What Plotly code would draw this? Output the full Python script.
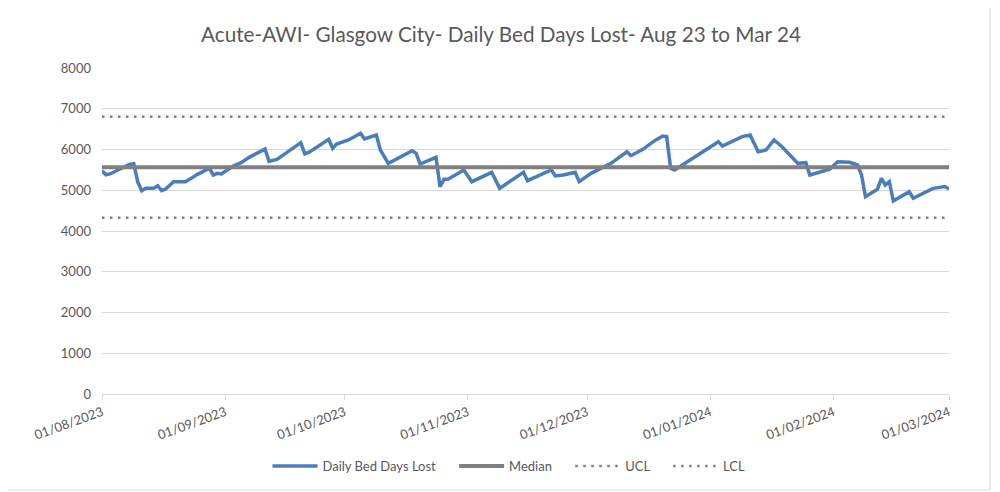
import plotly.graph_objects as go

# Daily bed days lost (turning points only)
dates = [
    '2023-08-01', '2023-08-02', '2023-08-03', '2023-08-06', '2023-08-08', '2023-08-09',
    '2023-08-10', '2023-08-11', '2023-08-12', '2023-08-14', '2023-08-15', '2023-08-16',
    '2023-08-17', '2023-08-19', '2023-08-22', '2023-08-23', '2023-08-25', '2023-08-28',
    '2023-08-29', '2023-08-30', '2023-08-31', '2023-09-03', '2023-09-05', '2023-09-07',
    '2023-09-09', '2023-09-11', '2023-09-12', '2023-09-14', '2023-09-20', '2023-09-21',
    '2023-09-22', '2023-09-27', '2023-09-28', '2023-09-29', '2023-10-02', '2023-10-04',
    '2023-10-05', '2023-10-06', '2023-10-09', '2023-10-10', '2023-10-12', '2023-10-18',
    '2023-10-19', '2023-10-20', '2023-10-24', '2023-10-25', '2023-10-26', '2023-10-27',
    '2023-10-31', '2023-11-02', '2023-11-07', '2023-11-09', '2023-11-15', '2023-11-16',
    '2023-11-22', '2023-11-23', '2023-11-25', '2023-11-28', '2023-11-29', '2023-12-02',
    '2023-12-07', '2023-12-11', '2023-12-12', '2023-12-15', '2023-12-18', '2023-12-20',
    '2023-12-21', '2023-12-22', '2023-12-23', '2024-01-03', '2024-01-04', '2024-01-09',
    '2024-01-11', '2024-01-13', '2024-01-15', '2024-01-17', '2024-01-19', '2024-01-23',
    '2024-01-25', '2024-01-26', '2024-01-30', '2024-01-31', '2024-02-02', '2024-02-05',
    '2024-02-07', '2024-02-08', '2024-02-09', '2024-02-12', '2024-02-13', '2024-02-14',
    '2024-02-15', '2024-02-16', '2024-02-20', '2024-02-21', '2024-02-26', '2024-02-28',
    '2024-02-29', '2024-03-01',
]
bed_days = [
    5480, 5380, 5400, 5540, 5640, 5650,
    5200, 4990, 5047, 5047, 5110, 4990,
    5030, 5210, 5210, 5267, 5390, 5540,
    5374, 5415, 5400, 5595, 5677, 5807,
    5905, 6010, 5710, 5758, 6168, 5890,
    5930, 6250, 6030, 6135, 6233, 6356,
    6397, 6258, 6356, 5988, 5660, 5970,
    5905, 5644, 5807, 5088, 5267, 5267,
    5497, 5210, 5440, 5047, 5440, 5235,
    5497, 5350, 5374, 5440, 5210, 5415,
    5660, 5945, 5848, 6005, 6217, 6331,
    6320, 5538, 5497, 6192, 6086, 6315,
    6356, 5945, 5988, 6233, 6069, 5660,
    5677, 5374, 5497, 5514, 5701, 5685,
    5620, 5374, 4842, 5022, 5292, 5129,
    5210, 4736, 4964, 4802, 5047, 5064,
    5090, 5030,
]

median = 5565
ucl = 6805
lcl = 4325
axis_dates = ['2023-08-01', '2024-03-01']

title = 'Acute-AWI- Glasgow City- Daily Bed Days Lost- Aug 23 to Mar 24'

fig = go.Figure()

fig.add_trace(go.Scatter(x=dates, y=bed_days, mode='lines', name='Daily Bed Days Lost    ',
                         line=dict(color='#4a7ebb', width=3.5)))
fig.add_trace(go.Scatter(x=axis_dates, y=[median, median], mode='lines', name='Median    ',
                         line=dict(color='#808080', width=4)))
fig.add_trace(go.Scatter(x=axis_dates, y=[ucl, ucl], mode='lines', name='UCL    ',
                         line=dict(color='#808080', width=2.5, dash='2.5px,5.5px')))
fig.add_trace(go.Scatter(x=axis_dates, y=[lcl, lcl], mode='lines', name='LCL',
                         line=dict(color='#808080', width=2.5, dash='2.5px,5.5px')))

fig.update_layout(
    width=1000, height=492,
    paper_bgcolor='white', plot_bgcolor='white',
    margin=dict(l=94, r=59, t=60, b=106),
    font=dict(family='Lato, Liberation Sans, sans-serif', color='#595959', size=13),
    title=dict(text=title, x=0.493, xanchor='center', y=0.945, yanchor='middle',
               font=dict(size=20.7, color='#595959')),
    showlegend=True,
    legend=dict(orientation='h', x=0.4805, xanchor='center', y=-0.175, yanchor='top',
                itemwidth=45, font=dict(size=13, color='#595959')),
    xaxis=dict(type='date', range=axis_dates, tickformat='%d/%m/%Y',
               tick0='2023-08-01', dtick='M1', tickangle=-20, automargin=False,
               showgrid=False, showline=True, linecolor='#d9d9d9', linewidth=1,
               ticks='outside', ticklen=5, tickcolor='#d9d9d9', zeroline=False),
    yaxis=dict(range=[0, 8000], dtick=1000, showgrid=True, gridcolor='#d9d9d9',
               gridwidth=1, zeroline=False, showline=False, ticks='', automargin=False,
               ticklabelstandoff=10),
    shapes=[
        dict(type='line', xref='paper', yref='paper', x0=1.0484, x1=1.0484, y0=-0.2945, y1=1.2,
             line=dict(color='#d9d9d9', width=1)),
        dict(type='line', xref='paper', yref='paper', x0=-0.12, x1=1.0484, y0=-0.2945, y1=-0.2945,
             line=dict(color='#d9d9d9', width=1)),
    ],
)

fig.write_html('out.html')
